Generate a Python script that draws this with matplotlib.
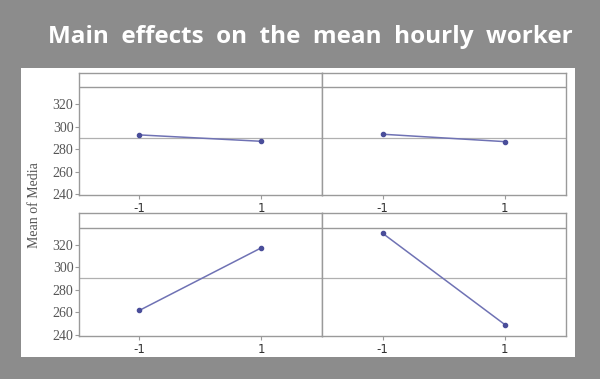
import numpy as np
import matplotlib
matplotlib.use('Agg')
import matplotlib.pyplot as plt
from matplotlib.patches import Rectangle

# data
levels = [-1, 1]
tl_means = [292.7, 287.0]
tr_means = [293.3, 286.7]
bl_means = [261.7, 317.0]
br_means = [330.0, 249.2]
grand_mean = 290.0
yticks = [240, 260, 280, 300, 320]
title = 'Main  effects  on  the  mean  hourly  worker'
ylab = 'Mean of Media'

W, H = 600, 379
fig = plt.figure(figsize=(W/100, H/100), dpi=100)
fig.patch.set_facecolor('#8c8c8c')

# white inner panel
fig.patches.append(Rectangle((21/W, 1-357/H), (575-21)/W, (357-68)/H,
                             transform=fig.transFigure, facecolor='white',
                             edgecolor='none', zorder=-5))

fig.text(310/W, 1-37/H, title, color='white', fontsize=17.5, fontweight='bold',
         family='Open Sans', ha='center', va='center')

edge = '#9a9a9a'
line_c = '#6f72b4'
mark_c = '#4a4e9a'

def panel(rect, vals, show_y):
    ax = fig.add_axes(rect)
    ax.set_facecolor('white')
    ax.set_xlim(-1.99, 2.0)
    ax.set_ylim(239.1, 347.9)
    ax.axhline(335, color=edge, lw=1)
    ax.axhline(grand_mean, color='#b0b0b0', lw=0.9)
    ax.plot(levels, vals, color=line_c, lw=1.1, marker='o', ms=3,
            mfc=mark_c, mec=mark_c, zorder=3)
    for s in ax.spines.values():
        s.set_color(edge)
        s.set_linewidth(1)
    ax.set_xticks(levels)
    ax.set_xticklabels(['-1', '1'], fontsize=8.5, family='DejaVu Sans', color='#333333')
    ax.tick_params(axis='x', length=3, color=edge, pad=2)
    if show_y:
        ax.set_yticks(yticks)
        ax.set_yticklabels([str(v) for v in yticks], fontsize=10,
                           family='Liberation Serif', color='#555555')
        ax.tick_params(axis='y', length=3, color=edge, pad=1)
    else:
        ax.set_yticks([])
    return ax

panel([79/W, 1-195/H, 243/W, 122/H], tl_means, True)
panel([322/W, 1-195/H, 244/W, 122/H], tr_means, False)
panel([79/W, 1-336/H, 243/W, 123/H], bl_means, True)
panel([322/W, 1-336/H, 244/W, 123/H], br_means, False)

fig.text(35/W, 1-205/H, ylab, rotation=90, fontsize=10, family='Liberation Serif',
         color='#555555', ha='center', va='center')

fig.savefig('out.png', dpi=100, facecolor=fig.get_facecolor())
